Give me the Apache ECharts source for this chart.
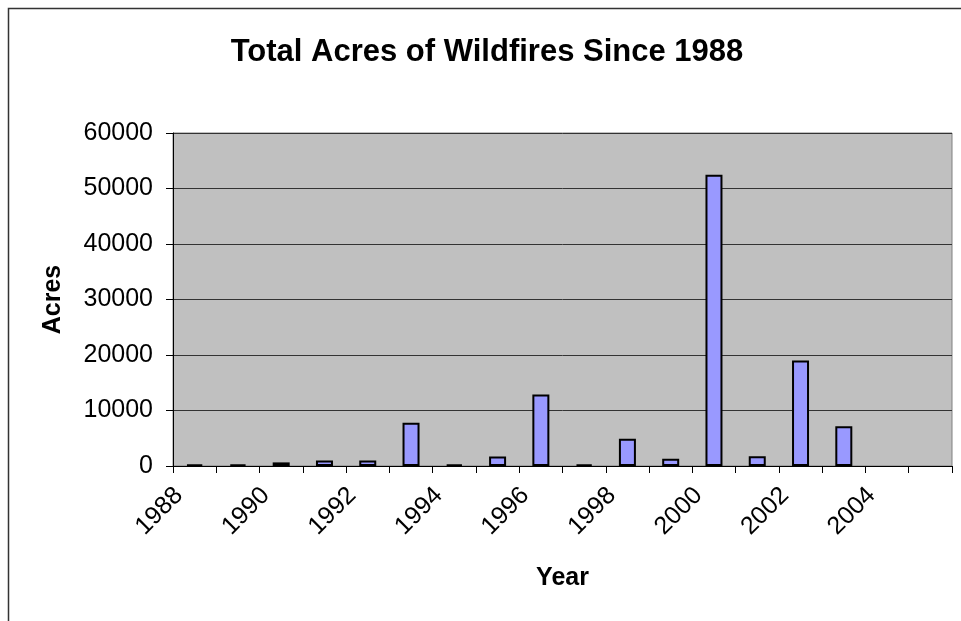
<!DOCTYPE html>
<html>
<head>
<meta charset="utf-8">
<script src="https://cdn.jsdelivr.net/npm/echarts@6/dist/echarts.min.js"></script>
<style>
  html, body { margin: 0; padding: 0; background: #fff; }
  #chart { width: 961px; height: 621px; }
</style>
</head>
<body>
<div id="chart"></div>
<script>
  // wildfire acres by year
  const years = ['1988', '1989', '1990', '1991', '1992', '1993', '1994', '1995', '1996',
    '1997', '1998', '1999', '2000', '2001', '2002', '2003', '2004', '2005']
  const acres = [300, 300, 650, 1000, 1000, 7800, 300, 1700, 12900,
    300, 4900, 1300, 52500, 1750, 19000, 7150, null, null]
  const yTicks = [0, 10000, 20000, 30000, 40000, 50000, 60000]

  const FONT = '"Liberation Sans", Arial, sans-serif'

  const chart = echarts.init(document.getElementById('chart'))
  chart.setOption({
    animation: false,
    backgroundColor: '#ffffff',
    title: {
      text: 'Total Acres of Wildfires Since 1988',
      left: 482,
      textAlign: 'center',
      top: 32,
      textStyle: { fontFamily: FONT, fontSize: 31, fontWeight: 'bold', color: '#000' }
    },
    graphic: [
      {
        type: 'rect',
        shape: { x: 8.5, y: 8.5, width: 1000, height: 1000 },
        style: { fill: null, stroke: '#333', lineWidth: 1.5 },
        silent: true
      }
    ],
    grid: {
      left: 173,
      right: 9,
      top: 133,
      bottom: 155,
      show: true,
      backgroundColor: '#c0c0c0',
      borderColor: '#808080',
      borderWidth: 1
    },
    xAxis: {
      type: 'category',
      data: years,
      name: 'Year',
      nameLocation: 'middle',
      nameGap: 100,
      nameTextStyle: { fontFamily: FONT, fontSize: 25, fontWeight: 'bold', color: '#000' },
      axisLine: { lineStyle: { color: '#000', width: 1 } },
      axisTick: { show: true, interval: 0, length: 7, lineStyle: { color: '#000' } },
      axisLabel: {
        interval: 1,
        rotate: 45,
        margin: 10,
        padding: [0, 22, 0, 0],
        fontFamily: FONT,
        fontSize: 25,
        color: '#000'
      },
      splitLine: { show: false }
    },
    yAxis: {
      type: 'value',
      min: 0,
      max: 60000,
      interval: 10000,
      name: 'Acres',
      nameLocation: 'middle',
      nameGap: 107,
      nameTextStyle: { fontFamily: FONT, fontSize: 25, fontWeight: 'bold', color: '#000' },
      axisLine: { show: true, lineStyle: { color: '#000', width: 1 } },
      axisTick: { show: true, length: 7, lineStyle: { color: '#000' } },
      axisLabel: {
        margin: 20,
        fontFamily: FONT,
        fontSize: 25,
        color: '#000',
        formatter: (v) => (yTicks.indexOf(v) >= 0 ? String(v) : '')
      },
      splitLine: { show: true, lineStyle: { color: '#333', width: 1 } }
    },
    series: [
      {
        type: 'bar',
        data: acres,
        barWidth: 17,
        itemStyle: { color: '#9999ff', borderColor: '#000', borderWidth: 2 }
      }
    ]
  })
</script>
</body>
</html>
